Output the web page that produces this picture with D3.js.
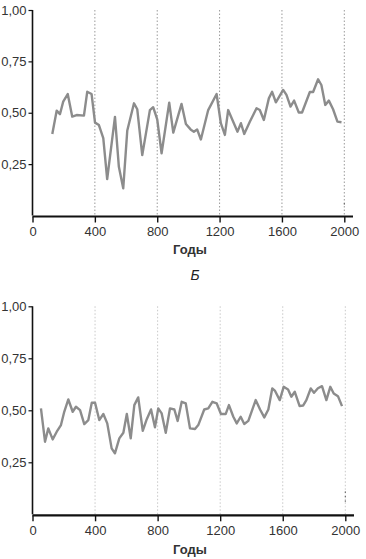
<!DOCTYPE html>
<html><head><meta charset="utf-8">
<script src="https://cdn.jsdelivr.net/npm/d3@7"></script>
<style>body{margin:0;background:#fff}svg{display:block}text{font-family:"Liberation Sans",Arial,sans-serif}</style>
</head><body><svg id="c" width="366" height="559"></svg>
<script>
const yearsA = [127,155,176,197,226,255,283,330,351,379,401,426,454,479,529,554,582,608,651,672,704,753,774,800,828,877,903,956,984,1014,1035,1056,1080,1127,1181,1208,1234,1255,1315,1337,1358,1394,1437,1458,1484,1516,1537,1561,1608,1629,1655,1678,1708,1729,1779,1800,1832,1853,1878,1901,1928,1956,1982];
const valuesA = [0.397,0.51,0.493,0.554,0.591,0.481,0.489,0.486,0.602,0.591,0.452,0.44,0.376,0.177,0.48,0.237,0.132,0.414,0.546,0.517,0.294,0.513,0.527,0.468,0.303,0.549,0.403,0.543,0.445,0.419,0.408,0.419,0.37,0.513,0.591,0.449,0.392,0.513,0.408,0.449,0.397,0.456,0.522,0.513,0.465,0.57,0.602,0.551,0.611,0.587,0.53,0.559,0.501,0.501,0.601,0.601,0.663,0.635,0.538,0.559,0.517,0.457,0.454];
const yearsB = [54,80,101,129,155,182,203,229,257,278,304,331,357,379,400,427,453,478,506,527,555,581,603,628,651,676,705,730,758,783,804,826,852,879,907,928,954,980,1007,1039,1060,1098,1124,1150,1178,1205,1235,1256,1284,1306,1331,1354,1380,1427,1455,1482,1508,1533,1551,1581,1606,1634,1655,1677,1708,1730,1751,1779,1800,1825,1851,1879,1904,1926,1953,1979];
const valuesB = [0.509,0.349,0.413,0.36,0.397,0.429,0.493,0.552,0.493,0.517,0.501,0.434,0.453,0.536,0.536,0.453,0.482,0.437,0.317,0.293,0.365,0.392,0.482,0.365,0.525,0.562,0.401,0.456,0.504,0.418,0.509,0.485,0.392,0.509,0.504,0.449,0.541,0.533,0.413,0.41,0.429,0.504,0.509,0.541,0.533,0.482,0.482,0.525,0.469,0.437,0.469,0.434,0.449,0.549,0.504,0.466,0.504,0.605,0.593,0.549,0.613,0.6,0.565,0.589,0.52,0.523,0.549,0.605,0.584,0.606,0.616,0.549,0.613,0.581,0.568,0.52];
const xTicks = [0,400,800,1200,1600,2000];
const gridYears = [400,800,1200,1600,2000];
const yTicks = [0.25,0.5,0.75,1.0];
const xTitle = "Годы";
const panelLabel = "Б";

const svg = d3.select("#c");
const loc = d3.formatLocale({decimal:",",thousands:" ",grouping:[3],currency:["",""]});
const fmt = loc.format(".2f");

function panel(years, values, xr, yr, axisEnd, gridColor, titleY, markRange) {
  const x = d3.scaleLinear().domain([0,2000]).range(xr);
  const y = d3.scaleLinear().domain([0,1]).range(yr);
  const g = svg.append("g");
  g.selectAll("line.grid").data(gridYears).enter().append("line")
    .attr("x1", d=>x(d)).attr("x2", d=>x(d))
    .attr("y1", y(1)).attr("y2", y(0))
    .attr("stroke", gridColor).attr("stroke-width", 1).attr("stroke-dasharray","1.5,2");
  // small dark mark near base of the last gridline
  g.append("line").attr("x1", x(2000)).attr("x2", x(2000))
    .attr("y1", y(markRange[1])).attr("y2", y(markRange[0]))
    .attr("stroke","#555").attr("stroke-width",1).attr("stroke-dasharray","1.5,3");
  const data = years.map((d,i)=>[d, values[i]]);
  g.append("path").datum(data)
    .attr("d", d3.line().x(d=>x(d[0])).y(d=>y(d[1])))
    .attr("fill","none").attr("stroke","#8c8c8c").attr("stroke-width",2.4).attr("stroke-linejoin","round");
  const ya = d3.axisLeft(y).tickValues(yTicks).tickFormat(fmt).tickSize(4).tickPadding(2);
  const yg = g.append("g").attr("transform",`translate(${xr[0]},0)`).call(ya);
  yg.select(".domain").attr("d", `M0,${y(1)}V${y(0)}`).attr("stroke","#111").attr("stroke-width",1.6);
  yg.selectAll(".tick line").attr("stroke","#111").attr("stroke-width",1.2);
  yg.selectAll("text").attr("font-size",13).attr("fill","#333");
  const xa = d3.axisBottom(x).tickValues(xTicks).tickFormat(d3.format("d")).tickSize(6).tickPadding(4);
  const xg = g.append("g").attr("transform",`translate(0,${y(0)+1})`).call(xa);
  xg.select(".domain").attr("d", `M${xr[0]},0H${axisEnd}`).attr("stroke","#111").attr("stroke-width",2.2);
  xg.selectAll(".tick line").attr("stroke","#111").attr("stroke-width",1.4);
  xg.selectAll("text").attr("font-size",13).attr("fill","#333");
  g.append("text").attr("x",190).attr("y",titleY).attr("text-anchor","middle")
    .attr("font-size",13).attr("font-weight","bold").attr("fill","#333").text(xTitle);
}

panel(yearsA, valuesA, [32.5,344.3], [215.5,10], 353, "#9a9a9a", 253.5, [0.04,0.06]);
panel(yearsB, valuesB, [32.5,345.3], [514.3,306.3], 354, "#c8c8c8", 553.5, [0.06,0.11]);

svg.append("text").attr("x",195).attr("y",280).attr("text-anchor","middle")
  .attr("font-size",14).attr("font-style","italic").attr("fill","#222").text(panelLabel);
</script></body></html>
